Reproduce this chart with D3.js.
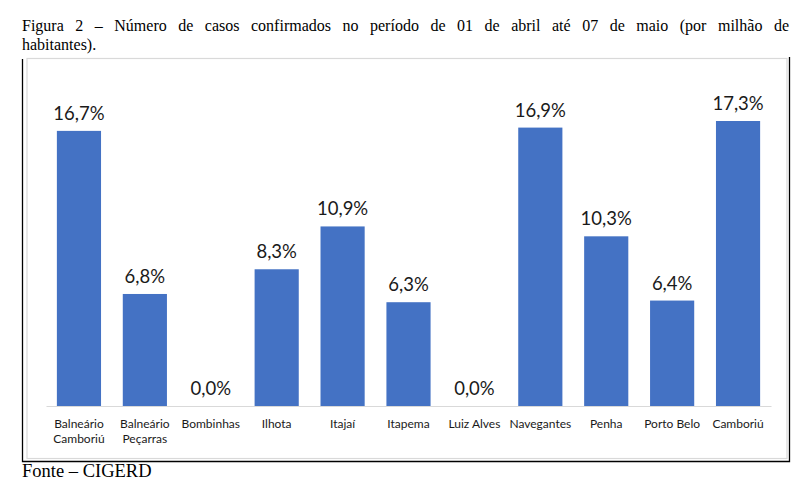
<!DOCTYPE html>
<html>
<head>
<meta charset="utf-8">
<style>
body { margin: 0; background: #fff; }
</style>
</head>
<body>
<div id="chart"></div>
<script src="https://cdn.jsdelivr.net/npm/d3@7"></script>
<script>
// data
var cities = ["Balneário Camboriú", "Balneário Peçarras", "Bombinhas", "Ilhota", "Itajaí", "Itapema",
              "Luiz Alves", "Navegantes", "Penha", "Porto Belo", "Camboriú"];
var casos = [16.7, 6.8, 0.0, 8.3, 10.9, 6.3, 0.0, 16.9, 10.3, 6.4, 17.3];
var titulo = ["Figura 2 – Número de casos confirmados no período de 01 de abril até 07 de maio (por milhão de",
              "habitantes)."];
var fonte = "Fonte – CIGERD";

var W = 802, H = 481;
var svg = d3.select("#chart").append("svg")
    .attr("width", W)
    .attr("height", H);

// title, justified on first line
var tLeft = 22, tRight = 789;
titulo.forEach(function (line, i) {
  var g = svg.append("text")
      .attr("y", 31 + i * 19)
      .style("font-family", "'Liberation Serif', 'Times New Roman', serif")
      .style("font-size", "16px")
      .style("fill", "#000");
  if (i === titulo.length - 1) {
    g.attr("x", tLeft).text(line);
    return;
  }
  var words = line.split(" ");
  var spans = words.map(function (w) { return g.append("tspan").text(w); });
  var widths = spans.map(function (s) { return s.node().getComputedTextLength(); });
  var gap = (tRight - tLeft - d3.sum(widths)) / (words.length - 1);
  var x = tLeft;
  spans.forEach(function (s, k) {
    s.attr("x", x);
    x += widths[k] + gap;
  });
});

// frame
svg.append("rect")
    .attr("x", 27).attr("y", 58.5)
    .attr("width", 760).attr("height", 400)
    .style("fill", "none")
    .style("stroke", "#d9d9d9")
    .style("stroke-width", 1.2);
svg.append("path")
    .attr("d", "M22.5,59 V461.5 H789.5 V57")
    .style("fill", "none")
    .style("stroke", "#000")
    .style("stroke-width", 1.3);

// scales
var x = d3.scaleBand()
    .domain(cities)
    .range([46, 771])
    .paddingInner(0.33)
    .paddingOuter(0.165);
var y = d3.scaleLinear()
    .domain([0, 17.3])
    .range([406, 121]);

// bars
svg.selectAll("rect.bar")
    .data(casos)
    .enter().append("rect")
    .attr("class", "bar")
    .attr("x", function (d, i) { return x(cities[i]); })
    .attr("y", function (d) { return y(d); })
    .attr("width", x.bandwidth())
    .attr("height", function (d) { return y(0) - y(d); })
    .style("fill", "#4472C4");

// baseline
var xAxis = svg.append("g")
    .attr("transform", "translate(0," + y(0) + ")")
    .call(d3.axisBottom(x).tickSize(0).tickFormat(""));
xAxis.select(".domain").style("stroke", "#d9d9d9").style("stroke-width", 1.2);

// value labels
svg.selectAll("text.val")
    .data(casos)
    .enter().append("text")
    .attr("class", "val")
    .attr("x", function (d, i) { return x(cities[i]) + x.bandwidth() / 2; })
    .attr("y", function (d) { return y(d) - 11; })
    .style("text-anchor", "middle")
    .style("font-family", "Lato, Carlito, Calibri, sans-serif")
    .style("font-size", "18.5px")
    .style("fill", "#1a1a1a")
    .text(function (d) { return d.toFixed(1).replace(".", ",") + "%"; });

// category labels
svg.selectAll("text.cat")
    .data(cities)
    .enter().append("text")
    .attr("class", "cat")
    .attr("x", function (d) { return x(d) + x.bandwidth() / 2; })
    .attr("y", 428)
    .style("text-anchor", "middle")
    .style("font-family", "Lato, Carlito, Calibri, sans-serif")
    .style("font-size", "12px")
    .style("fill", "#1a1a1a")
    .each(function (d) {
      var t = d3.select(this);
      var parts = d.split(" ");
      var lines = (parts.length === 2 && parts[0] === "Balneário") ? parts : [d];
      lines.forEach(function (l, k) {
        t.append("tspan")
          .attr("x", x(d) + x.bandwidth() / 2)
          .attr("dy", k === 0 ? 0 : 15)
          .text(l);
      });
    });

// source
svg.append("text")
    .attr("x", 22)
    .attr("y", 477)
    .style("font-family", "'Liberation Serif', 'Times New Roman', serif")
    .style("font-size", "18.5px")
    .style("fill", "#000")
    .text(fonte);
</script>
</body>
</html>
